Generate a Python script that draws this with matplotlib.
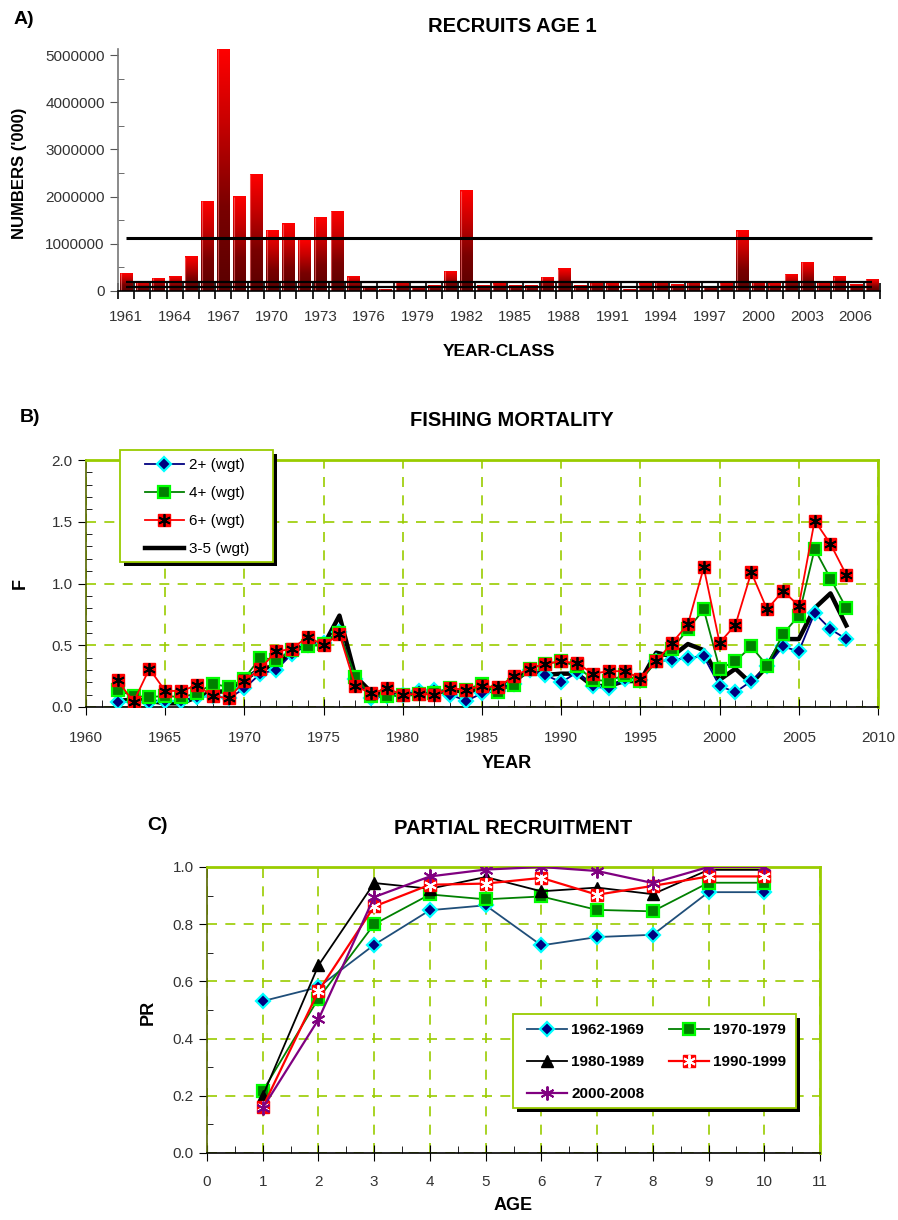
"""Recruitment, fishing mortality and partial recruitment figure."""

import numpy as np
import matplotlib
matplotlib.use("Agg")
import matplotlib.pyplot as plt
import matplotlib.ticker as mticker
from matplotlib.colors import LinearSegmentedColormap
from matplotlib.lines import Line2D
from matplotlib.patches import Rectangle

plt.rcParams.update({
    "font.family": ["Liberation Sans", "DejaVu Sans"],
    "font.size": 11,
    "axes.linewidth": 1.2,
})

_GRID = "#99cc00"
_TXT = "#333333"
TICK_SIZE = 11

# --- A) recruits at age 1 ('000) by year-class
year_class = list(range(1961, 2008))
recruits = [
    375000, 190000, 270000, 300000, 730000, 1900000, 5130000, 2000000, 2470000, 1290000,
    1430000, 1100000, 1560000, 1690000, 300000, 90000, 35000, 190000, 80000, 110000,
    420000, 2120000, 110000, 150000, 110000, 110000, 290000, 470000, 110000, 180000,
    150000, 35000, 150000, 200000, 130000, 200000, 100000, 160000, 1280000, 200000,
    150000, 360000, 610000, 190000, 300000, 130000, 250000,
]
recruit_refs = [1120000, 200000, 80000]

# --- B) fishing mortality
years_f = list(range(1962, 2009))
f_2plus = [
    0.04, 0.04, 0.04, 0.05, 0.05, 0.08, 0.09, 0.07, 0.15, 0.27,
    0.30, 0.43, 0.50, 0.52, 0.61, 0.23, 0.07, 0.09, 0.10, 0.13,
    0.14, 0.10, 0.05, 0.11, 0.13, 0.19, 0.30, 0.26, 0.20, 0.28,
    0.17, 0.15, 0.23, 0.22, 0.37, 0.38, 0.40, 0.41, 0.17, 0.12,
    0.21, 0.33, 0.49, 0.45, 0.76, 0.63, 0.55,
]
f_4plus = [
    0.135, 0.09, 0.08, 0.09, 0.08, 0.11, 0.19, 0.16, 0.23, 0.40,
    0.38, 0.46, 0.49, 0.51, 0.60, 0.245, 0.09, 0.09, 0.095, 0.105,
    0.11, 0.15, 0.14, 0.19, 0.12, 0.18, 0.31, 0.35, 0.37, 0.33,
    0.22, 0.21, 0.26, 0.21, 0.37, 0.47, 0.63, 0.79, 0.31, 0.37,
    0.49, 0.335, 0.59, 0.74, 1.28, 1.04, 0.80,
]
f_6plus = [
    0.215, 0.04, 0.31, 0.13, 0.13, 0.175, 0.09, 0.07, 0.21, 0.31,
    0.45, 0.47, 0.57, 0.50, 0.59, 0.17, 0.11, 0.15, 0.10, 0.105,
    0.10, 0.15, 0.14, 0.17, 0.16, 0.25, 0.31, 0.35, 0.37, 0.355,
    0.27, 0.29, 0.29, 0.23, 0.37, 0.52, 0.67, 1.13, 0.52, 0.665,
    1.09, 0.79, 0.94, 0.82, 1.51, 1.32, 1.07,
]
f_3to5 = [
    0.05, 0.06, 0.05, 0.03, 0.03, 0.08, 0.12, 0.13, 0.22, 0.31,
    0.33, 0.45, 0.52, 0.50, 0.74, 0.25, 0.12, 0.10, 0.10, 0.11,
    0.12, 0.13, 0.13, 0.14, 0.15, 0.21, 0.30, 0.26, 0.27, 0.27,
    0.17, 0.17, 0.21, 0.21, 0.44, 0.41, 0.51, 0.46, 0.22, 0.31,
    0.19, 0.33, 0.55, 0.55, 0.80, 0.92, 0.66,
]

# --- C) partial recruitment at age, by decade
ages = list(range(1, 11))
pr_1962_69 = [0.531, 0.58, 0.728, 0.849, 0.866, 0.726, 0.755, 0.763, 0.912, 0.912]
pr_1970_79 = [0.217, 0.54, 0.80, 0.904, 0.887, 0.897, 0.85, 0.845, 0.945, 0.945]
pr_1980_89 = [0.20, 0.656, 0.944, 0.924, 0.965, 0.915, 0.928, 0.905, 0.99, 0.99]
pr_1990_99 = [0.16, 0.566, 0.862, 0.938, 0.942, 0.962, 0.903, 0.934, 0.967, 0.967]
pr_2000_08 = [0.157, 0.467, 0.895, 0.967, 0.991, 1.0, 0.986, 0.944, 1.0, 1.0]

W, H = 898, 1220
fig = plt.figure(figsize=(W / 100, H / 100), dpi=100)


def px_axes(x0, y0, x1, y1):
    return fig.add_axes([x0 / W, 1 - y1 / H, (x1 - x0) / W, (y1 - y0) / H])


def px(x, y):
    return x / W, 1 - y / H


def fig_text(x, y, s, **kw):
    kw.setdefault("ha", "center")
    kw.setdefault("va", "center")
    kw.setdefault("fontweight", "bold")
    fig.text(*px(x, y), s, **kw)


def legend_box(ax, x0, y0, x1, y1, off=4):
    """White legend panel with a green border and a hard black drop shadow."""
    w, h = (x1 - x0) / W, (y1 - y0) / H
    ax.add_patch(Rectangle(px(x0 + off, y1 + off), w, h, transform=fig.transFigure,
                           facecolor="black", edgecolor="none", zorder=8, clip_on=False))
    ax.add_patch(Rectangle(px(x0, y1), w, h, transform=fig.transFigure,
                           facecolor="white", edgecolor=_GRID, linewidth=1.3,
                           zorder=9, clip_on=False))


def style_ticks(ax):
    ax.tick_params(axis="both", which="both", colors="black",
                   labelcolor=_TXT, labelsize=TICK_SIZE)


# ---------------- A) RECRUITS AGE 1 ----------------
ax = px_axes(118, 49, 880, 291)
bars = ax.bar(year_class, recruits, width=0.76, color="none", zorder=2)
bar_cmap = LinearSegmentedColormap.from_list(
    "bar", [(0, "#5a0000"), (0.35, "#7a0000"), (0.7, "#c80000"), (1, "#ff0000")])
grad = np.linspace(0, 1, 256).reshape(-1, 1)
for rect in bars:
    x0, w, h = rect.get_x(), rect.get_width(), rect.get_height()
    ax.imshow(grad, extent=(x0, x0 + w, 0, h), origin="lower", cmap=bar_cmap,
              aspect="auto", zorder=2, interpolation="bilinear")
    ax.vlines(x0 + 0.04, 0, h, color="#ff8080", linewidth=0.8, alpha=0.6, zorder=2.5)
for i, ref in enumerate(recruit_refs):
    ax.hlines(ref, year_class[0], year_class[-1], color="black",
              linewidth=2.2 if i == 0 else 1.6, zorder=3)

ax.set_xlim(year_class[0] - 0.5, year_class[-1] + 0.5)
ax.set_ylim(0, 5130000)
ax.spines[["top", "right"]].set_visible(False)
ax.spines["left"].set_color("#777777")
ax.xaxis.set_major_locator(mticker.FixedLocator(year_class[::3]))
ax.xaxis.set_minor_locator(mticker.FixedLocator(np.arange(year_class[0] - 0.5, year_class[-1] + 1)))
ax.tick_params(axis="x", which="major", length=0, pad=14)
ax.tick_params(axis="x", which="minor", direction="inout", length=12, width=1.2)
ax.yaxis.set_major_locator(mticker.MultipleLocator(1000000))
ax.yaxis.set_minor_locator(mticker.MultipleLocator(500000))
ax.yaxis.set_major_formatter(mticker.FuncFormatter(lambda v, _: f"{v:.0f}"))
ax.tick_params(axis="y", which="major", direction="out", length=6, color="#555555")
ax.tick_params(axis="y", which="minor", direction="in", length=4, color="#555555")
ax.tick_params(axis="both", labelcolor=_TXT, labelsize=TICK_SIZE)

fig_text(24, 20, "A)", fontsize=14)
fig_text(512, 26, "RECRUITS AGE 1", fontsize=14.5)
fig_text(20, 173, "NUMBERS ('000)", fontsize=12, rotation=90)
fig_text(499, 352, "YEAR-CLASS", fontsize=12.5)

# ---------------- B) FISHING MORTALITY ----------------
ax = px_axes(86, 460, 878, 707)
ax.plot(years_f, f_2plus, color="#000080", linewidth=1.3, marker="D", markersize=7,
        markerfacecolor="#000080", markeredgecolor="#00ffff", markeredgewidth=1.6,
        zorder=4)
ax.plot(years_f, f_4plus, color="#008000", linewidth=1.3, marker="s", markersize=8,
        markerfacecolor="#008000", markeredgecolor="#00ff00", markeredgewidth=1.6,
        zorder=4)
ax.plot(years_f, f_6plus, color="#ff0000", linewidth=1.3, marker="s", markersize=8,
        markerfacecolor="#ff0000", markeredgecolor="#ff0000", zorder=5)
ax.plot(years_f, f_6plus, linestyle="none", marker=(6, 2, 0), markersize=9,
        markeredgecolor="black", markeredgewidth=1.3, zorder=6)
ax.plot(years_f, f_3to5, color="black", linewidth=3.2, zorder=3)

ax.set_xlim(1960, 2010)
ax.set_ylim(0, 2.0)
ax.xaxis.set_major_locator(mticker.MultipleLocator(5))
ax.xaxis.set_minor_locator(mticker.MultipleLocator(1))
ax.yaxis.set_major_locator(mticker.MultipleLocator(0.5))
ax.yaxis.set_minor_locator(mticker.MultipleLocator(0.1))
ax.yaxis.set_major_formatter(mticker.FormatStrFormatter("%.1f"))
ax.grid(which="major", color=_GRID, linestyle=(0, (6, 5)), linewidth=1.2)
for side in ("top", "right"):
    ax.spines[side].set_color(_GRID)
    ax.spines[side].set_linewidth(2)
ax.spines["left"].set_color("#556600")
ax.tick_params(axis="x", which="major", direction="inout", length=12, pad=11)
ax.tick_params(axis="x", which="minor", direction="in", length=5)
ax.tick_params(axis="y", which="major", direction="out", length=6)
ax.tick_params(axis="y", which="minor", direction="in", length=4)
style_ticks(ax)

h = [
    Line2D([], [], color="#000080", linewidth=1.3, marker="D", markersize=7,
           markerfacecolor="#000080", markeredgecolor="#00ffff", markeredgewidth=1.6),
    Line2D([], [], color="#008000", linewidth=1.3, marker="s", markersize=8,
           markerfacecolor="#008000", markeredgecolor="#00ff00", markeredgewidth=1.6),
    (Line2D([], [], color="#ff0000", linewidth=1.3, marker="s", markersize=8,
            markerfacecolor="#ff0000", markeredgecolor="#ff0000"),
     Line2D([], [], linestyle="none", marker=(6, 2, 0), markersize=9,
            markeredgecolor="black", markeredgewidth=1.3)),
    Line2D([], [], color="black", linewidth=3.2),
]
legend_box(ax, 120, 450, 273, 562)
leg = ax.legend(h, ["2+ (wgt)", "4+ (wgt)", "6+ (wgt)", "3-5 (wgt)"],
                loc="upper left", bbox_to_anchor=px(145, 458),
                bbox_transform=fig.transFigure, fontsize=11, frameon=False,
                handlelength=2.55, handletextpad=0.3, labelspacing=0.92,
                borderpad=0, borderaxespad=0)
leg.set_zorder(10)

fig_text(30, 418, "B)", fontsize=14)
fig_text(512, 421, "FISHING MORTALITY", fontsize=14.5)
fig_text(20, 583, "F", fontsize=13, rotation=90)
fig_text(507, 764, "YEAR", fontsize=13)

# ---------------- C) PARTIAL RECRUITMENT ----------------
ax = px_axes(207, 867, 820, 1153)
ax.plot(ages, pr_1962_69, color="#1f4e79", linewidth=1.3, marker="D", markersize=7,
        markerfacecolor="#000080", markeredgecolor="#00ffff", markeredgewidth=1.6, zorder=4)
ax.plot(ages, pr_1970_79, color="#008000", linewidth=1.3, marker="s", markersize=9,
        markerfacecolor="#008000", markeredgecolor="#00ff00", markeredgewidth=1.6, zorder=4)
ax.plot(ages, pr_1980_89, color="black", linewidth=1.3, marker="^", markersize=9,
        markerfacecolor="black", markeredgecolor="black", zorder=4)
ax.plot(ages, pr_1990_99, color="#ff0000", linewidth=1.6, marker="s", markersize=9,
        markerfacecolor="#ff0000", markeredgecolor="#ff0000", zorder=5)
ax.plot(ages, pr_1990_99, linestyle="none", marker=(6, 2, 0), markersize=9,
        markeredgecolor="white", markeredgewidth=1.4, zorder=6)
ax.plot(ages, pr_2000_08, color="#800080", linewidth=1.6, marker=(6, 2, 0), markersize=10,
        markeredgecolor="#800080", markeredgewidth=1.4, zorder=7)

ax.set_xlim(0, 11)
ax.set_ylim(0, 1.0)
ax.xaxis.set_major_locator(mticker.MultipleLocator(1))
ax.xaxis.set_minor_locator(mticker.MultipleLocator(0.5))
ax.yaxis.set_major_locator(mticker.MultipleLocator(0.2))
ax.yaxis.set_minor_locator(mticker.MultipleLocator(0.1))
ax.yaxis.set_major_formatter(mticker.FormatStrFormatter("%.1f"))
ax.grid(which="major", color=_GRID, linestyle=(0, (6, 5)), linewidth=1.2)
for side in ("top", "right"):
    ax.spines[side].set_color(_GRID)
    ax.spines[side].set_linewidth(2)
ax.spines["left"].set_color("#556600")
ax.tick_params(axis="x", which="major", direction="inout", length=12, pad=10)
ax.tick_params(axis="x", which="minor", direction="in", length=5)
ax.tick_params(axis="y", which="major", direction="out", length=6)
ax.tick_params(axis="y", which="minor", direction="in", length=4)
style_ticks(ax)

hc = [
    Line2D([], [], color="#1f4e79", linewidth=1.3, marker="D", markersize=7,
           markerfacecolor="#000080", markeredgecolor="#00ffff", markeredgewidth=1.6),
    Line2D([], [], color="black", linewidth=1.3, marker="^", markersize=9,
           markerfacecolor="black"),
    Line2D([], [], color="#800080", linewidth=1.6, marker=(6, 2, 0), markersize=10,
           markeredgecolor="#800080", markeredgewidth=1.4),
    Line2D([], [], color="#008000", linewidth=1.3, marker="s", markersize=9,
           markerfacecolor="#008000", markeredgecolor="#00ff00", markeredgewidth=1.6),
    (Line2D([], [], color="#ff0000", linewidth=1.6, marker="s", markersize=9,
            markerfacecolor="#ff0000", markeredgecolor="#ff0000"),
     Line2D([], [], linestyle="none", marker=(6, 2, 0), markersize=9,
            markeredgecolor="white", markeredgewidth=1.4)),
]
labels_c = ["1962-1969", "1980-1989", "2000-2008", "1970-1979", "1990-1999"]
legend_box(ax, 513, 1014, 796, 1108)
leg = ax.legend(hc, labels_c, ncol=2, loc="upper left", bbox_to_anchor=px(527, 1023),
                bbox_transform=fig.transFigure, prop={"weight": "bold", "size": 11},
                frameon=False, handlelength=2.6, handletextpad=0.3, labelspacing=1.18,
                columnspacing=1.6, borderpad=0, borderaxespad=0)
leg.set_zorder(10)

fig_text(158, 826, "C)", fontsize=14)
fig_text(513, 828, "PARTIAL RECRUITMENT", fontsize=14.5)
fig_text(148, 1012, "PR", fontsize=13, rotation=90)
fig_text(513, 1205, "AGE", fontsize=13)

fig.savefig("out.png", dpi=100)
